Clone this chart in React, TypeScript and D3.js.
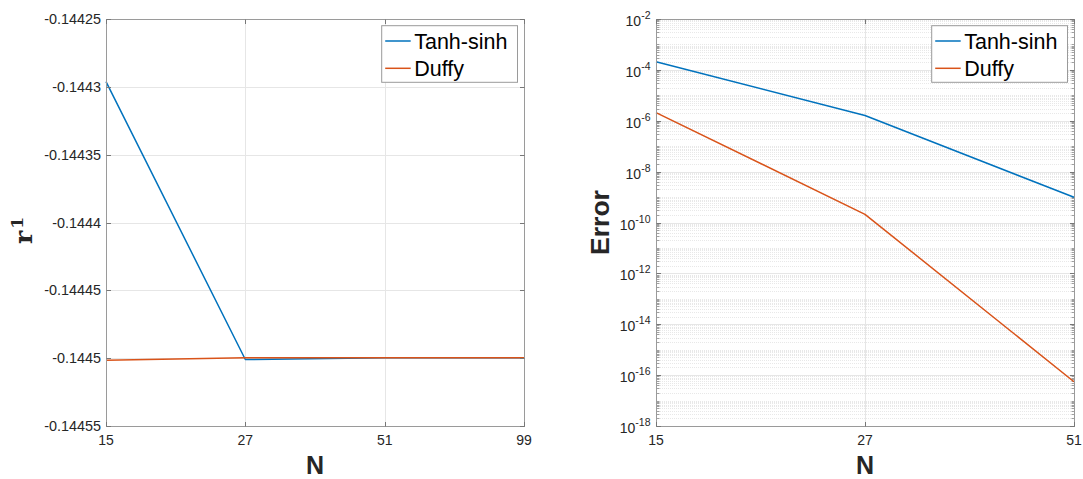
import React, { useEffect, useRef } from "react";
import * as d3 from "d3";

// ---------- data ----------
const LEFT_N = ["15", "27", "51", "99"];
const LEFT_TANH = [-0.1442962, -0.144501, -0.1444997, -0.1444997];
const LEFT_DUFFY = [-0.1445015, -0.1444997, -0.1444997, -0.1444997];
const LEFT_YTICKS = [-0.14455, -0.1445, -0.14445, -0.1444, -0.14435, -0.1443, -0.14425];
const LEFT_YTICK_LABELS = ["-0.14455", "-0.1445", "-0.14445", "-0.1444", "-0.14435", "-0.1443", "-0.14425"];

const RIGHT_N = ["15", "27", "51"];
const RIGHT_TANH = [2.1e-4, 1.6e-6, 9.8e-10];
const RIGHT_DUFFY = [2.1e-6, 2.1e-10, 5.5e-17];
const RIGHT_YTICK_EXP = [-18, -16, -14, -12, -10, -8, -6, -4, -2];

const SERIES_NAMES = ["Tanh-sinh", "Duffy"];
const SERIES_COLORS = ["#0072BD", "#D95319"];

const W = 1083;
const H = 479;
const FONT = "'Liberation Sans', Arial, Helvetica, sans-serif";
const TXT = "#262626";

export default function App() {
  const ref = useRef<SVGSVGElement | null>(null);

  useEffect(() => {
    const svg = d3.select(ref.current);
    svg.selectAll("*").remove();

    const drawPanel = (
      x0: number,
      x1: number,
      y0: number,
      y1: number,
      cats: string[],
      series: number[][],
      yScale: any,
      opts: { log: boolean }
    ) => {
      const g = svg.append("g");
      const xs = d3.scalePoint<string>().domain(cats).range([x0, x1]);
      const crisp = (v: number) => Math.round(v) + 0.5;

      g.append("rect").attr("x", x0).attr("y", y0).attr("width", x1 - x0).attr("height", y1 - y0).attr("fill", "#fff");

      if (opts.log) {
        const minor: number[] = [];
        for (let e = -18; e < -2; e++) {
          for (let m = 2; m <= 9; m++) minor.push(m * Math.pow(10, e));
          if (e % 2 !== 0) minor.push(Math.pow(10, e));
        }
        g.selectAll(".mgrid")
          .data(minor)
          .enter()
          .append("line")
          .attr("x1", x0)
          .attr("x2", x1)
          .attr("y1", (d) => crisp(yScale(d)))
          .attr("y2", (d) => crisp(yScale(d)))
          .attr("stroke", "#e2e2e2")
          .attr("stroke-width", 0.8)
          .attr("stroke-dasharray", "1,1");
        [x0, x1].forEach((xa, i) => {
          g.selectAll(".mtick" + i)
            .data(minor)
            .enter()
            .append("line")
            .attr("x1", xa + 0.5)
            .attr("x2", xa + 0.5 + (i === 0 ? 3 : -3))
            .attr("y1", (d) => crisp(yScale(d)))
            .attr("y2", (d) => crisp(yScale(d)))
            .attr("stroke", "#8a8a8a")
            .attr("stroke-width", 0.8);
        });
      }

      const majorY: number[] = opts.log ? RIGHT_YTICK_EXP.map((e) => Math.pow(10, e)) : LEFT_YTICKS;

      g.selectAll(".ygrid")
        .data(majorY)
        .enter()
        .append("line")
        .attr("x1", x0)
        .attr("x2", x1)
        .attr("y1", (d) => crisp(yScale(d)))
        .attr("y2", (d) => crisp(yScale(d)))
        .attr("stroke", "#e6e6e6")
        .attr("stroke-width", 1);
      g.selectAll(".xgrid")
        .data(cats)
        .enter()
        .append("line")
        .attr("x1", (d) => crisp(xs(d)!))
        .attr("x2", (d) => crisp(xs(d)!))
        .attr("y1", y0)
        .attr("y2", y1)
        .attr("stroke", "#e6e6e6")
        .attr("stroke-width", 1);

      const line = d3
        .line<number>()
        .x((_, i) => xs(cats[i])!)
        .y((d) => yScale(d));
      series.forEach((s, k) => {
        g.append("path")
          .attr("d", line(s)!)
          .attr("fill", "none")
          .attr("stroke", SERIES_COLORS[k])
          .attr("stroke-width", 1.5)
          .attr("stroke-linejoin", "round");
      });

      g.append("rect")
        .attr("x", x0 + 0.5)
        .attr("y", y0 + 0.5)
        .attr("width", x1 - x0)
        .attr("height", y1 - y0)
        .attr("fill", "none")
        .attr("stroke", "#9a9a9a")
        .attr("stroke-width", 1);

      majorY.forEach((d) => {
        const yy = crisp(yScale(d));
        g.append("line").attr("x1", x0 + 0.5).attr("x2", x0 + 5).attr("y1", yy).attr("y2", yy).attr("stroke", "#777");
        g.append("line").attr("x1", x1 + 0.5).attr("x2", x1 - 4).attr("y1", yy).attr("y2", yy).attr("stroke", "#777");
      });
      cats.forEach((c) => {
        const xx = crisp(xs(c)!);
        g.append("line").attr("x1", xx).attr("x2", xx).attr("y1", y1 + 0.5).attr("y2", y1 - 4).attr("stroke", "#777");
        g.append("line").attr("x1", xx).attr("x2", xx).attr("y1", y0 + 0.5).attr("y2", y0 + 5).attr("stroke", "#777");
      });

      g.selectAll(".xlab")
        .data(cats)
        .enter()
        .append("text")
        .attr("x", (d) => xs(d)!)
        .attr("y", 445)
        .attr("text-anchor", "middle")
        .attr("font-family", FONT)
        .attr("font-size", 14)
        .attr("fill", TXT)
        .text((d) => d);

      if (!opts.log) {
        g.selectAll(".ylab")
          .data(LEFT_YTICKS)
          .enter()
          .append("text")
          .attr("x", x0 - 5)
          .attr("y", (d) => yScale(d) + 5)
          .attr("text-anchor", "end")
          .attr("font-family", FONT)
          .attr("font-size", 14.4)
          .attr("fill", TXT)
          .text((_, i) => LEFT_YTICK_LABELS[i]);
      } else {
        RIGHT_YTICK_EXP.forEach((e) => {
          const yy = yScale(Math.pow(10, e));
          const t = g
            .append("text")
            .attr("x", x0 - 5.5)
            .attr("y", yy + 7)
            .attr("text-anchor", "end")
            .attr("font-family", FONT)
            .attr("fill", TXT);
          t.append("tspan").attr("font-size", 14).text("10");
          t.append("tspan").attr("font-size", 10.5).attr("dy", -7).text(String(e));
        });
      }

      g.append("text")
        .attr("x", (x0 + x1) / 2)
        .attr("y", 473.5)
        .attr("text-anchor", "middle")
        .attr("font-family", FONT)
        .attr("font-weight", "bold")
        .attr("font-size", 25)
        .attr("fill", TXT)
        .text("N");

      const lx = x1 - 142.3;
      const ly = 25.7;
      g.append("rect")
        .attr("x", lx)
        .attr("y", ly)
        .attr("width", 135.8)
        .attr("height", 56.6)
        .attr("fill", "#fff")
        .attr("stroke", "#9a9a9a")
        .attr("stroke-width", 1);
      SERIES_NAMES.forEach((name, k) => {
        const cy = 41 + k * 27.3;
        g.append("line")
          .attr("x1", lx + 3.5)
          .attr("x2", lx + 29)
          .attr("y1", cy)
          .attr("y2", cy)
          .attr("stroke", SERIES_COLORS[k])
          .attr("stroke-width", 1.5);
        g.append("text")
          .attr("x", lx + 32.5)
          .attr("y", cy + 8)
          .attr("font-family", FONT)
          .attr("font-size", 21.5)
          .attr("fill", "#000")
          .text(name);
      });
    };

    const ly0 = 19,
      ly1 = 426;
    const yLeft = d3.scaleLinear().domain([-0.14455, -0.14425]).range([ly1, ly0]);
    drawPanel(106, 524, ly0, ly1, LEFT_N, [LEFT_TANH, LEFT_DUFFY], yLeft, { log: false });

    const yRight = d3.scaleLog().domain([1e-18, 1e-2]).range([ly1, ly0]);
    drawPanel(656, 1074, ly0, ly1, RIGHT_N, [RIGHT_TANH, RIGHT_DUFFY], yRight, { log: true });

    const r1 = svg
      .append("text")
      .attr("transform", "translate(32.3,244) rotate(-90)")
      .attr("font-family", "'DejaVu Serif', serif")
      .attr("font-weight", "bold")
      .attr("fill", TXT);
    r1.append("tspan").attr("font-size", 25).text("r");
    r1.append("tspan").attr("font-size", 17).attr("dy", -9).attr("dx", 2).text("1");

    svg
      .append("text")
      .attr("transform", "translate(609,222.5) rotate(-90)")
      .attr("text-anchor", "middle")
      .attr("font-family", FONT)
      .attr("font-weight", "bold")
      .attr("font-size", 26.5)
      .attr("fill", TXT)
      .text("Error");
  }, []);

  return (
    <svg
      ref={ref}
      width={W}
      height={H}
      style={{ position: "absolute", left: 0, top: 0, background: "#fff" }}
    />
  );
}
